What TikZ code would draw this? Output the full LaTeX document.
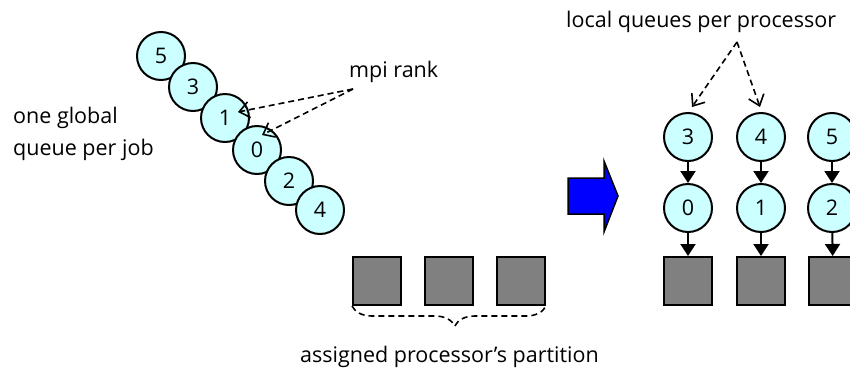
\documentclass[tikz,border=0pt]{standalone}
\usepackage{fontspec}
\setmainfont{Open Sans}
\usetikzlibrary{arrows.meta,calc,decorations.pathreplacing}
\definecolor{queuecyan}{RGB}{204,255,255}
\definecolor{procgray}{RGB}{128,128,128}
\begin{document}
\begin{tikzpicture}[x=1pt,y=-1pt,
  rank/.style={draw, circle, fill=queuecyan, line width=2pt, minimum size=48pt, inner sep=0pt, font=\fontsize{21.5}{26}\selectfont},
  proc/.style={draw, fill=procgray, line width=2pt, minimum size=48pt, inner sep=0pt},
  txt/.style={font=\fontsize{21.5}{26}\selectfont, inner sep=0pt, anchor=base west},
  pointer/.style={-{Straight Barb[length=10pt,width=16pt]}, dash pattern=on 6pt off 4pt, line width=1.6pt},
  link/.style={-{Triangle[length=12pt,width=15pt]}, line width=2pt}]
\clip (0,0) rectangle (850,370);

% one global queue
\node[rank] (g5) at (161,56) {5};
\node[rank] (g3) at (193,87) {3};
\node[rank] (g1) at (225,118) {1};
\node[rank] (g0) at (257,150) {0};
\node[rank] (g2) at (289,181) {2};
\node[rank] (g4) at (320,210) {4};

\node[txt] (glob) at (13,123) {one global};
\node[txt] (glob2) at (13,155) {queue per job};
\node[txt] (mpi) at (349,77) {mpi rank};
\coordinate (mpisrc) at (353,89);
\draw[pointer] (mpisrc) -- ($(g1)+(13,-6)$);
\draw[pointer] (mpisrc) -- ($(g0)+(5,-15)$);

% partition
\node[proc] (p1) at (377,281) {};
\node[proc] (p2) at (449,281) {};
\node[proc] (p3) at (521,281) {};
\draw[dash pattern=on 6pt off 4pt, line width=1.6pt, decorate, decoration={brace, mirror, amplitude=20pt, aspect=0.53}]
  (p1.south west) -- (p3.south east);
\node[txt] (part) at (300,362) {assigned processor's partition};

% blue arrow
\draw[fill=blue, line width=1.5pt] (568,178) -- (604,178) -- (604,161) -- (618,196)
  -- (604,232) -- (604,214) -- (568,214) -- cycle;

% local queues
\node[rank] (l3) at (688,137) {3};
\node[rank] (l4) at (761,137) {4};
\node[rank] (l5) at (832,137) {5};
\node[rank] (l0) at (688,208) {0};
\node[rank] (l1) at (761,208) {1};
\node[rank] (l2) at (832,208) {2};
\node[proc] (q1) at (688,281) {};
\node[proc] (q2) at (761,281) {};
\node[proc] (q3) at (833,281) {};

\draw[link] (l3) -- (l0);
\draw[link] (l4) -- (l1);
\draw[link] (l5) -- (l2);
\draw[link] (l0) -- (q1);
\draw[link] (l1) -- (q2);
\draw[link] (l2) -- (q3);

\node[txt] (local) at (566,27) {local queues per processor};
\coordinate (localsrc) at (737,42);
\draw[pointer] (localsrc) -- ($(l3.north)+(4,-5)$);
\draw[pointer] (localsrc) -- ($(l4.north)+(-1,-5)$);
\end{tikzpicture}
\end{document}
